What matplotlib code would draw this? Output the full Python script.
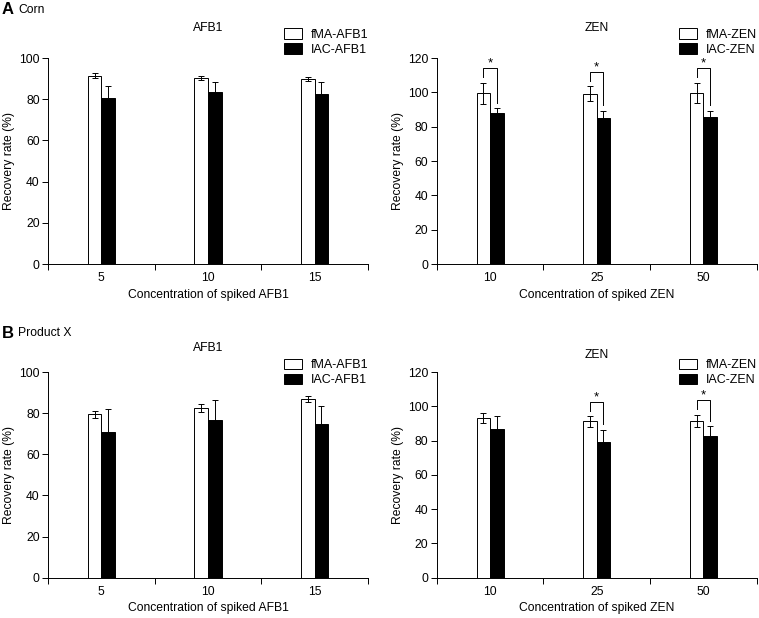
import numpy as np
import matplotlib.pyplot as plt

plt.rcParams['font.family'] = ['Liberation Sans', 'DejaVu Sans']
plt.rcParams['font.size'] = 8.7

# ==========================================
# DATA
# ==========================================
afb1_conc = ["5", "10", "15"]
zen_conc = ["10", "25", "50"]

# A - Corn
corn_afb1_fma = [91.5, 90.4, 89.8]
corn_afb1_fma_err = [1.3, 1.0, 1.0]
corn_afb1_iac = [80.7, 83.6, 82.7]
corn_afb1_iac_err = [5.5, 4.6, 5.5]

corn_zen_fma = [99.4, 99.1, 99.7]
corn_zen_fma_err = [6.3, 4.4, 6.0]
corn_zen_iac = [87.7, 85.3, 85.7]
corn_zen_iac_err = [2.9, 4.1, 3.7]
corn_zen_sig = [True, True, True]

# B - Product X
prod_afb1_fma = [79.4, 82.4, 86.9]
prod_afb1_fma_err = [1.8, 2.0, 1.5]
prod_afb1_iac = [71.0, 76.7, 74.6]
prod_afb1_iac_err = [11.0, 9.7, 8.9]

prod_zen_fma = [93.2, 91.2, 91.6]
prod_zen_fma_err = [2.8, 3.0, 3.6]
prod_zen_iac = [86.9, 79.4, 82.9]
prod_zen_iac_err = [7.6, 7.0, 5.6]
prod_zen_sig = [False, True, True]


def bar_panel(ax, cats, fma, fma_err, iac, iac_err, toxin, ymax, title_pad,
              leg_y, sig=None):
    x = np.arange(len(cats)) + 0.5
    w = 0.127
    ax.bar(x - w/2, fma, w, color="white", edgecolor="black", linewidth=0.7,
           label="fMA-" + toxin, zorder=2)
    ax.bar(x + w/2, iac, w, color="black", edgecolor="black", linewidth=0.7,
           label="IAC-" + toxin, zorder=2)
    ax.errorbar(x - w/2, fma, yerr=fma_err, fmt="none", ecolor="black",
                elinewidth=0.7, capsize=2.5, capthick=0.7, zorder=3)
    ax.errorbar(x + w/2, iac, yerr=iac_err, fmt="none", ecolor="black",
                elinewidth=0.7, capsize=2.5, capthick=0.7, zorder=3)

    # significance brackets
    if sig is not None:
        for i in range(len(cats)):
            if not sig[i]:
                continue
            a = fma[i] + fma_err[i]
            b = iac[i] + iac_err[i]
            top = max(a, b) + 8.5
            ax.plot([x[i] - w/2, x[i] - w/2, x[i] + w/2, x[i] + w/2],
                    [a + 3, top, top, b + 3], color="black", lw=0.7)
            ax.text(x[i], top + 2.5, "*", ha="center", va="center",
                    fontsize=9.5)

    ax.set_xlim(0, len(cats))
    ax.set_ylim(0, ymax)
    ax.set_yticks(np.arange(0, ymax + 1, 20))
    ax.set_xticks(np.arange(0, len(cats) + 1))
    ax.set_xticklabels([])
    ax.set_xticks(x, minor=True)
    ax.set_xticklabels(cats, minor=True)
    ax.tick_params(axis="x", which="major", length=4, width=0.7)
    ax.tick_params(axis="x", which="minor", length=0, pad=6)
    ax.tick_params(axis="y", length=4, width=0.7, pad=2)
    for s in ["top", "right"]:
        ax.spines[s].set_visible(False)
    for s in ["left", "bottom"]:
        ax.spines[s].set_linewidth(0.7)
    ax.set_ylabel("Recovery rate (%)", labelpad=3)
    ax.set_xlabel("Concentration of spiked " + toxin, labelpad=3)
    ax.set_title(toxin, pad=title_pad, fontsize=8.7)
    ax.legend(loc="lower right", bbox_to_anchor=(1.02, leg_y), frameon=False,
              handlelength=1.4, handleheight=0.9, handletextpad=0.7,
              labelspacing=0.2, borderpad=0, fontsize=9)


# ==========================================
# FIGURE
# ==========================================
fig = plt.figure(figsize=(7.59, 6.18), dpi=100)

ax1 = fig.add_axes([0.0632, 0.5728, 0.4216, 0.3333])
ax2 = fig.add_axes([0.5754, 0.5728, 0.4216, 0.3333])
ax3 = fig.add_axes([0.0632, 0.0652, 0.4216, 0.3328])
ax4 = fig.add_axes([0.5754, 0.0652, 0.4216, 0.3328])

bar_panel(ax1, afb1_conc, corn_afb1_fma, corn_afb1_fma_err, corn_afb1_iac,
          corn_afb1_iac_err, "AFB1", 100, 19.5, 0.98)
bar_panel(ax2, zen_conc, corn_zen_fma, corn_zen_fma_err, corn_zen_iac,
          corn_zen_iac_err, "ZEN", 120, 19.5, 0.98, sig=corn_zen_sig)
bar_panel(ax3, afb1_conc, prod_afb1_fma, prod_afb1_fma_err, prod_afb1_iac,
          prod_afb1_iac_err, "AFB1", 100, 15, 0.90)
bar_panel(ax4, zen_conc, prod_zen_fma, prod_zen_fma_err, prod_zen_iac,
          prod_zen_iac_err, "ZEN", 120, 10, 0.90, sig=prod_zen_sig)

# panel labels
fig.text(0.002, 1 - 10/618, "A", fontsize=12, fontweight="bold", va="center")
fig.text(0.024, 1 - 10/618, "Corn", fontsize=8.7, va="center")
fig.text(0.002, 1 - 333/618, "B", fontsize=12, fontweight="bold", va="center")
fig.text(0.024, 1 - 333/618, "Product X", fontsize=8.7, va="center")

plt.savefig("out.png", dpi=100)
